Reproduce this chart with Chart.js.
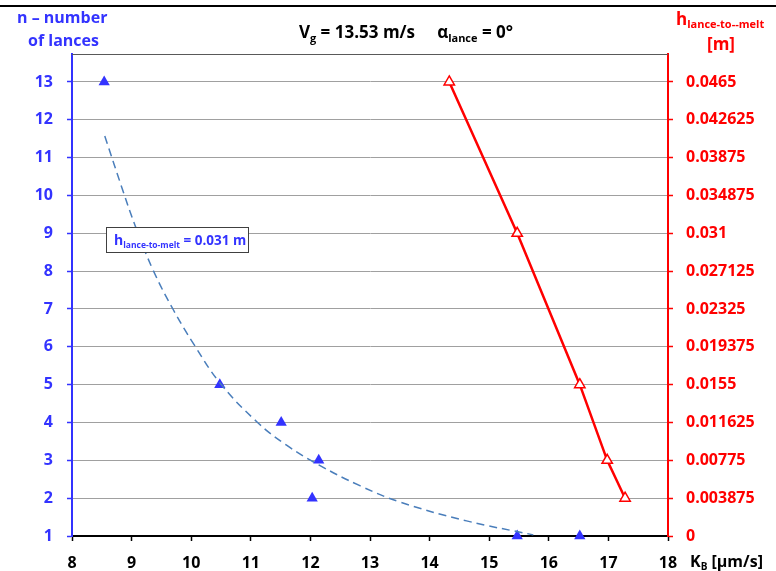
<!DOCTYPE html>
<html>
<head>
<meta charset="utf-8">
<script src="https://cdn.jsdelivr.net/npm/chart.js@4.4.0/dist/chart.umd.min.js"></script>
<style>
  body { margin: 0; background: #fff; }
  canvas { display: block; }
</style>
</head>
<body>
<canvas id="mychart" width="776" height="571"></canvas>
<script>
// measured points n vs K_B (blue, left axis)
var blueX = [8.54, 10.48, 11.51, 12.14, 12.03, 15.47, 16.52];
var blueN = [13, 5, 4, 3, 2, 1, 1];

// h_lance-to-melt vs K_B (red, right axis)
var redX = [14.33, 15.47, 16.52, 16.98, 17.28];
var redH = [0.0465, 0.031, 0.0155, 0.00775, 0.003875];

// dashed trend curve
var trendX = [8.55, 8.86, 9.06, 9.36, 9.70, 10.04, 10.48, 11.10, 11.60, 12.14, 12.83, 13.50, 14.62, 15.74];
var trendN = [11.57, 10.10, 9.20, 8.03, 6.98, 6.08, 5.05, 4.02, 3.40, 2.88, 2.33, 1.90, 1.40, 1.03];

// tick labels
var xTicks = [8, 9, 10, 11, 12, 13, 14, 15, 16, 17, 18];
var nTicks = [1, 2, 3, 4, 5, 6, 7, 8, 9, 10, 11, 12, 13];
var hTickLabels = ['0', '0.003875', '0.00775', '0.011625', '0.0155', '0.019375', '0.02325',
  '0.027125', '0.031', '0.034875', '0.03875', '0.042625', '0.0465'];

var BLUE = 'rgb(51, 51, 255)';
var RED = 'rgb(255, 0, 0)';
var FONT = "'Open Sans', sans-serif";

var leftMax = 13.74;
var rightMax = (leftMax - 1) * 0.0465 / 12;

function pts(xs, ys) {
  var out = [];
  for (var i = 0; i < xs.length; i++) out.push({x: xs[i], y: ys[i]});
  return out;
}

// draw a run of text pieces (some subscripted) starting at x
function drawRich(ctx, parts, x, y, color) {
  ctx.save();
  ctx.fillStyle = color;
  ctx.textBaseline = 'alphabetic';
  ctx.textAlign = 'left';
  parts.forEach(function(p) {
    ctx.font = 'bold ' + p.size + 'px ' + FONT;
    ctx.fillText(p.t, x, y + (p.dy || 0));
    x += ctx.measureText(p.t).width + (p.gap || 0);
  });
  ctx.restore();
  return x;
}
function richWidth(ctx, parts) {
  var w = 0;
  ctx.save();
  parts.forEach(function(p) {
    ctx.font = 'bold ' + p.size + 'px ' + FONT;
    w += ctx.measureText(p.t).width + (p.gap || 0);
  });
  ctx.restore();
  return w;
}

var decor = {
  id: 'decor',
  afterDraw: function(chart) {
    var ctx = chart.ctx, a = chart.chartArea;
    ctx.save();
    // top frame line
    ctx.fillStyle = '#000';
    ctx.fillRect(0, 5, 776, 2);
    // plot area top edge
    ctx.strokeStyle = '#595959';
    ctx.lineWidth = 1;
    ctx.beginPath();
    ctx.moveTo(a.left, a.top + 0.5);
    ctx.lineTo(a.right, a.top + 0.5);
    ctx.stroke();
    ctx.restore();

    // left axis title
    drawRich(ctx, [{t: 'n \u2013 number', size: 16}], 17, 23, BLUE);
    drawRich(ctx, [{t: 'of lances', size: 16}], 28, 46, BLUE);

    // centre title
    var title = [
      {t: 'V', size: 17}, {t: 'g', size: 11, dy: 4}, {t: ' = 13.53 m/s     ', size: 17},
      {t: '\u03b1', size: 17}, {t: 'lance', size: 11, dy: 4}, {t: ' = 0\u00b0', size: 17}
    ];
    drawRich(ctx, title, 406 - richWidth(ctx, title) / 2, 38, '#000');

    // right axis title
    drawRich(ctx, [{t: 'h', size: 17}, {t: 'lance-to--melt', size: 11, dy: 3}], 676, 25, RED);
    drawRich(ctx, [{t: '[m]', size: 17}], 707, 50, RED);

    // x axis title
    drawRich(ctx, [{t: 'K', size: 16}, {t: 'B', size: 10, dy: 3}, {t: ' [\u03bcm/s]', size: 16}], 690, 567, '#000');

    // annotation box
    ctx.save();
    ctx.fillStyle = '#fff';
    ctx.fillRect(106, 227, 142, 25);
    ctx.strokeStyle = '#404040';
    ctx.lineWidth = 1;
    ctx.strokeRect(106.5, 227.5, 142, 25);
    ctx.restore();
    drawRich(ctx, [{t: 'h', size: 14}, {t: 'lance-to-melt', size: 8.5, dy: 3}, {t: ' = 0.031 m', size: 13.5}], 114, 245, BLUE);
  }
};

new Chart(document.getElementById('mychart'), {
  type: 'scatter',
  plugins: [decor],
  data: {
    datasets: [
      {
        label: 'trend',
        data: pts(trendX, trendN),
        yAxisID: 'yL',
        showLine: true,
        borderColor: 'rgb(74, 126, 187)',
        borderWidth: 1.5,
        borderDash: [8, 5],
        tension: 0.4,
        pointRadius: 0
      },
      {
        label: 'h',
        data: pts(redX, redH),
        yAxisID: 'yR',
        showLine: true,
        clip: false,
        borderColor: RED,
        borderWidth: 2.5,
        pointStyle: 'triangle',
        pointRadius: 6,
        pointBorderWidth: 1.5,
        pointBackgroundColor: '#fff',
        pointBorderColor: RED
      },
      {
        label: 'n',
        data: pts(blueX, blueN),
        yAxisID: 'yL',
        showLine: false,
        clip: false,
        pointStyle: 'triangle',
        pointRadius: 6.5,
        pointBorderWidth: 0,
        pointBackgroundColor: BLUE,
        pointBorderColor: BLUE
      }
    ]
  },
  options: {
    responsive: false,
    animation: false,
    layout: { padding: { top: 54, left: 0, right: 0, bottom: 0 } },
    plugins: {
      legend: { display: false },
      tooltip: { enabled: false }
    },
    scales: {
      x: {
        type: 'linear',
        min: 8,
        max: 18,
        afterFit: function(s) { s.height = 35; },
        afterBuildTicks: function(s) { s.ticks = xTicks.map(function(v) { return {value: v}; }); },
        grid: { drawOnChartArea: false, tickLength: 5, tickColor: '#000', tickWidth: 1.5 },
        border: { color: '#000', width: 2 },
        ticks: { color: '#000', padding: 13, font: { family: FONT, size: 16, weight: 'bold' } }
      },
      yL: {
        type: 'linear',
        position: 'left',
        min: 1,
        max: leftMax,
        afterFit: function(s) { s.width = 72; },
        afterBuildTicks: function(s) { s.ticks = nTicks.map(function(v) { return {value: v}; }); },
        grid: { color: '#a0a0a0', lineWidth: 1, tickLength: 5, tickColor: BLUE, tickWidth: 1.5 },
        border: { color: BLUE, width: 2 },
        ticks: { color: BLUE, padding: 14, font: { family: FONT, size: 16, weight: 'bold' } }
      },
      yR: {
        type: 'linear',
        position: 'right',
        min: 0,
        max: rightMax,
        afterFit: function(s) { s.width = 108; },
        afterBuildTicks: function(s) {
          s.ticks = hTickLabels.map(function(t) { return {value: parseFloat(t)}; });
        },
        grid: { drawOnChartArea: false, tickLength: 5, tickColor: RED, tickWidth: 1.5 },
        border: { color: RED, width: 2 },
        ticks: {
          color: RED,
          padding: 13,
          font: { family: FONT, size: 16, weight: 'bold' },
          callback: function(v, i) { return hTickLabels[i]; }
        }
      }
    }
  }
});
</script>
</body>
</html>
